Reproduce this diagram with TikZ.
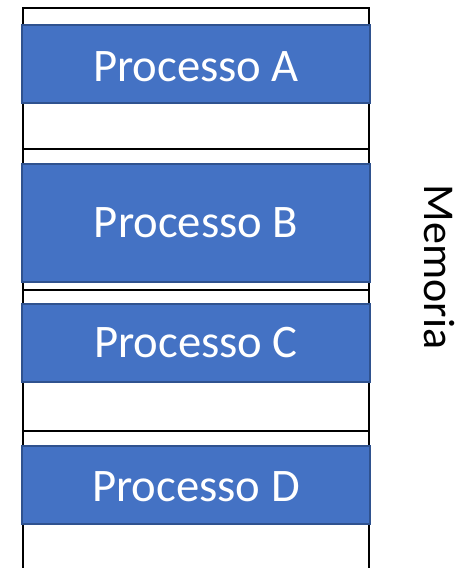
\documentclass[tikz,border=0pt]{standalone}
\usepackage{fontspec}
\setmainfont{Carlito}
\usepackage{tikz}

\definecolor{procblue}{HTML}{4472C4}
\definecolor{procedge}{HTML}{2F528F}

\begin{document}
\begin{tikzpicture}[
        x=0.75pt, y=-0.75pt,
        slot/.style={draw, line width=1.5pt, fill=white},
        process/.style={draw=procedge, line width=1.5pt, fill=procblue, text=white,
            minimum width=261pt, inner sep=0pt,
            font=\fontsize{35}{42}\selectfont},
    ]
        \useasboundingbox (0,0) rectangle (463,568);

        % Memory slots
        \foreach \k in {0,1,2,3}
            \draw[slot] (23,8+141*\k) rectangle (369,149+141*\k);

        % Processes
        \node[process, minimum height=58.5pt, text height=27pt] (A) at (196,64) {Processo A};
        \node[process, minimum height=88.5pt] (B) at (196,223) {Processo B};
        \node[process, minimum height=58.5pt] (C) at (196,343) {Processo C};
        \node[process, minimum height=58.5pt, text height=25pt] (D) at (196,485) {Processo D};

        % Label
        \node[rotate=-90, font=\fontsize{33}{40}\selectfont] (mem) at (439,267) {Memoria};
    \end{tikzpicture}
\end{document}
